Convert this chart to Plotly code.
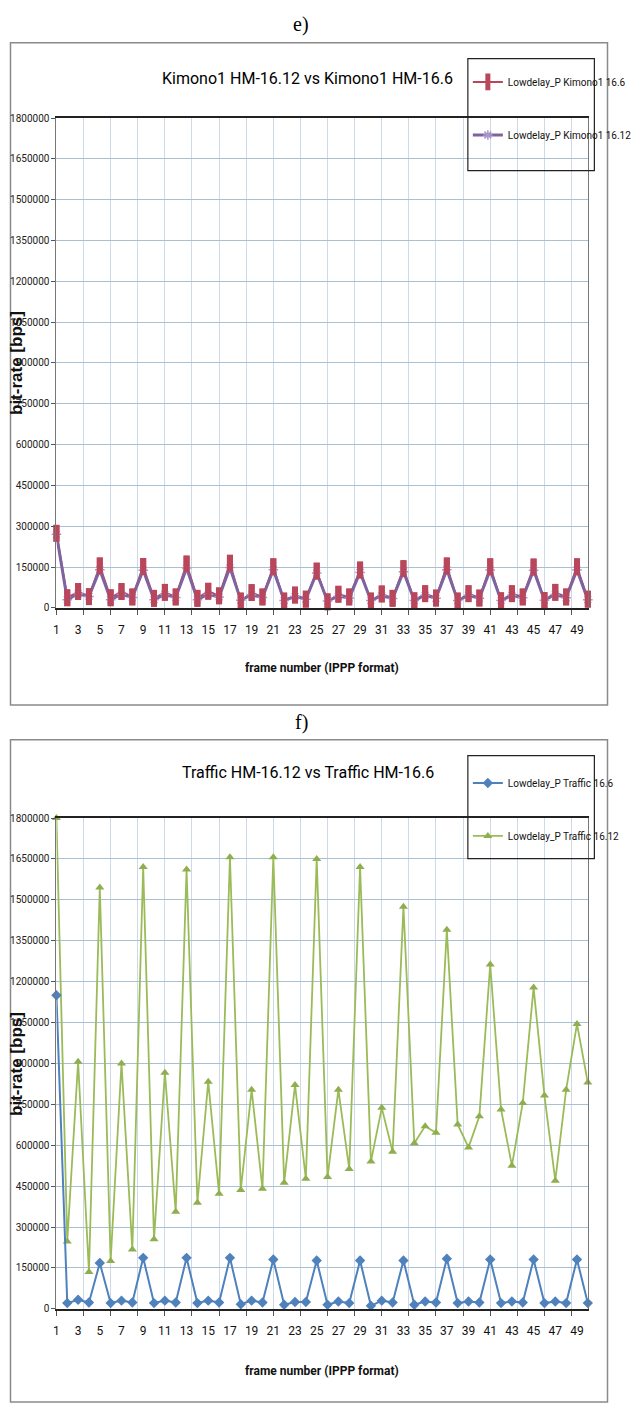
import plotly.graph_objects as go

W, H = 637, 1410

# ---------------- data ----------------
frames = list(range(1, 51))
x_labels = list(range(1, 50, 2))
y_ticks = list(range(0, 1800001, 150000))

kimono_166 = [274000, 37000, 60000, 41000, 154000, 37000, 60000, 40000, 152000, 35000,
              57000, 40000, 161000, 35000, 61000, 44000, 164000, 25000, 56000, 40000,
              151000, 25000, 47000, 32000, 135000, 22000, 50000, 40000, 139000, 25000,
              51000, 35000, 144000, 26000, 52000, 36000, 154000, 25000, 52000, 36000,
              151000, 26000, 52000, 40000, 150000, 27000, 57000, 40000, 151000, 32000]

kimono_1612 = [270000, 30000, 52000, 42000, 140000, 30000, 50000, 38000, 138000, 30000,
               49000, 38000, 146000, 30000, 50000, 40000, 148000, 28000, 48000, 38000,
               140000, 27000, 42000, 32000, 128000, 25000, 43000, 36000, 130000, 27000,
               45000, 34000, 133000, 27000, 46000, 35000, 140000, 27000, 46000, 35000,
               139000, 27000, 46000, 37000, 138000, 28000, 49000, 37000, 139000, 30000]

traffic_166 = [1150000, 21000, 33000, 23000, 168000, 21000, 30000, 23000, 187000, 21000,
               30000, 23000, 187000, 21000, 30000, 23000, 187000, 17000, 30000, 23000,
               181000, 15000, 25000, 25000, 177000, 15000, 27000, 21000, 177000, 11000,
               30000, 23000, 177000, 15000, 27000, 23000, 184000, 21000, 27000, 23000,
               181000, 21000, 27000, 23000, 181000, 21000, 27000, 21000, 181000, 21000]

traffic_1612 = [1800000, 247000, 906000, 135000, 1545000, 175000, 900000, 218000, 1620000, 255000,
                866000, 356000, 1611000, 389000, 833000, 422000, 1656000, 436000, 803000, 440000,
                1656000, 462000, 821000, 477000, 1650000, 483000, 803000, 513000, 1620000, 540000,
                737000, 576000, 1475000, 607000, 670000, 646000, 1390000, 676000, 592000, 706000,
                1263000, 731000, 525000, 755000, 1178000, 782000, 470000, 803000, 1045000, 830000]

# ---------------- styling ----------------
NARROW = "Roboto, Liberation Sans, sans-serif"
SANS = "Liberation Sans, Arial, sans-serif"
SERIF = "Liberation Serif, Times New Roman, serif"
HGRID = "#a9bfd2"
VGRID = "#cdd9e4"
RED = "#b9465a"
PURPLE = "#7f62a0"
BLUE = "#4f81bd"
GREEN = "#9bbb59"

# vertical gridline positions (every 2.5 frames, as in the source chart)
vgrid_pos = [1 + 2.5 * i for i in range(20)]


def px(x):
    return x / W


def py(y):
    return 1 - y / H


fig = go.Figure()

# ---- top panel (Kimono) ----
fig.add_trace(go.Scatter(
    x=frames, y=kimono_166, name="Lowdelay_P Kimono1 16.6", mode="lines+markers",
    line=dict(color=RED, width=2),
    marker=dict(symbol="line-ns", size=12, color=RED, line=dict(color=RED, width=6)),
    xaxis="x", yaxis="y", legend="legend", legendgroup="k1", legendrank=1, cliponaxis=False))
fig.add_trace(go.Scatter(
    x=frames, y=kimono_1612, name="Lowdelay_P Kimono1 16.12", mode="lines+markers",
    line=dict(color=PURPLE, width=3),
    marker=dict(symbol="asterisk-open", size=8, color="#a995c9", line=dict(color="#a995c9", width=1.5)),
    xaxis="x", yaxis="y", legend="legend", legendgroup="k2", legendrank=2, cliponaxis=False))
fig.add_trace(go.Scatter(
    x=frames, y=kimono_166, name="Lowdelay_P Kimono1 16.6", mode="markers",
    marker=dict(symbol="line-ns", size=12, color=RED, line=dict(color=RED, width=6)),
    xaxis="x", yaxis="y", showlegend=False, cliponaxis=False, hoverinfo="skip"))

# ---- bottom panel (Traffic) ----
fig.add_trace(go.Scatter(
    x=frames, y=traffic_1612, name="Lowdelay_P Traffic 16.12", mode="lines+markers",
    line=dict(color=GREEN, width=1.8),
    marker=dict(symbol="triangle-up", size=8, color="#8fae4f"),
    xaxis="x2", yaxis="y2", legend="legend2", legendgroup="t2", legendrank=2, cliponaxis=False))
fig.add_trace(go.Scatter(
    x=frames, y=traffic_166, name="Lowdelay_P Traffic 16.6", mode="lines+markers",
    line=dict(color=BLUE, width=2),
    marker=dict(symbol="diamond", size=8, color=BLUE),
    xaxis="x2", yaxis="y2", legend="legend2", legendgroup="t1", legendrank=1, cliponaxis=False))

XDOM = [px(57), px(624)]
TOP_DOM = [py(607), py(113)]
BOT_DOM = [py(1314), py(819)]

common_x = dict(range=[1, 50], domain=XDOM, tickmode="array", tickvals=x_labels,
                ticktext=[str(v) for v in x_labels], showgrid=False,
                ticks="outside", ticklen=10, tickcolor="rgba(0,0,0,0)",
                tickfont=dict(family=NARROW, size=12, color="#111"),
                minor=dict(tickmode="array", tickvals=vgrid_pos, showgrid=True, gridcolor=VGRID,
                           gridwidth=1, ticks="outside", ticklen=5, tickcolor="#555"),
                showline=True, linecolor="#222", linewidth=1.5, mirror=True,
                zeroline=False, fixedrange=True)
common_y = dict(range=[0, 1800000], tickmode="array", tickvals=y_ticks,
                ticktext=[str(v) for v in y_ticks], showgrid=True, gridcolor=HGRID, gridwidth=1,
                ticks="outside", ticklen=4, tickcolor="#555",
                showline=True, linecolor="#777", linewidth=1, mirror=True, zeroline=False,
                tickfont=dict(family=NARROW, size=10, color="#222"), fixedrange=True)

legend_common = dict(xanchor="left", yanchor="top", bgcolor="rgba(0,0,0,0)", borderwidth=0,
                     font=dict(family=NARROW, size=10, color="#111"),
                     traceorder="grouped", tracegroupgap=34, itemwidth=30)

fig.update_layout(
    width=W, height=H, margin=dict(l=0, r=0, t=0, b=0),
    paper_bgcolor="white", plot_bgcolor="white",
    xaxis=dict(common_x, anchor="y"),
    yaxis=dict(common_y, domain=TOP_DOM, anchor="x"),
    xaxis2=dict(common_x, anchor="y2"),
    yaxis2=dict(common_y, domain=BOT_DOM, anchor="x2"),
    legend=dict(legend_common, x=px(496), y=py(62)),
    legend2=dict(legend_common, x=px(496), y=py(769)),
    showlegend=True,
)

shapes = [
    # panel frames
    dict(type="rect", xref="paper", yref="paper", x0=px(8), x1=px(645), y0=py(705), y1=py(37),
         line=dict(color="#8a8a8a", width=1.5), fillcolor="rgba(0,0,0,0)", layer="below"),
    dict(type="rect", xref="paper", yref="paper", x0=px(8), x1=px(645), y0=py(1408), y1=py(740),
         line=dict(color="#8a8a8a", width=1.5), fillcolor="rgba(0,0,0,0)", layer="below"),
    # legend boxes
    dict(type="rect", xref="paper", yref="paper", x0=px(496), x1=px(631), y0=py(166), y1=py(53),
         line=dict(color="#222", width=1.2), fillcolor="rgba(0,0,0,0)"),
    dict(type="rect", xref="paper", yref="paper", x0=px(496), x1=px(631), y0=py(860), y1=py(756),
         line=dict(color="#222", width=1.2), fillcolor="rgba(0,0,0,0)"),
]

annotations = [
    dict(text="e)", x=px(318), y=py(19), font=dict(family=SERIF, size=20, color="#000")),
    dict(text="f)", x=px(318), y=py(723), font=dict(family=SERIF, size=20, color="#000")),
    dict(text="Kimono1 HM-16.12 vs Kimono1 HM-16.6", x=px(325), y=py(73),
         font=dict(family=NARROW, size=16, color="#000")),
    dict(text="Traffic HM-16.12 vs Traffic HM-16.6", x=px(325), y=py(773),
         font=dict(family=NARROW, size=16, color="#000")),
    dict(text="<b>bit-rate [bps]</b>", x=px(15), y=py(360), textangle=-90,
         font=dict(family=SANS, size=17, color="#111")),
    dict(text="<b>bit-rate [bps]</b>", x=px(15), y=py(1067), textangle=-90,
         font=dict(family=SANS, size=17, color="#111")),
    dict(text="<b>frame number (IPPP format)</b>", x=px(340), y=py(668),
         font=dict(family=NARROW, size=12, color="#111")),
    dict(text="<b>frame number (IPPP format)</b>", x=px(340), y=py(1377),
         font=dict(family=NARROW, size=12, color="#111")),
]
for a in annotations:
    a.update(xref="paper", yref="paper", showarrow=False, xanchor="center", yanchor="middle")

fig.update_layout(shapes=shapes, annotations=annotations)

fig.write_html("out.html")
